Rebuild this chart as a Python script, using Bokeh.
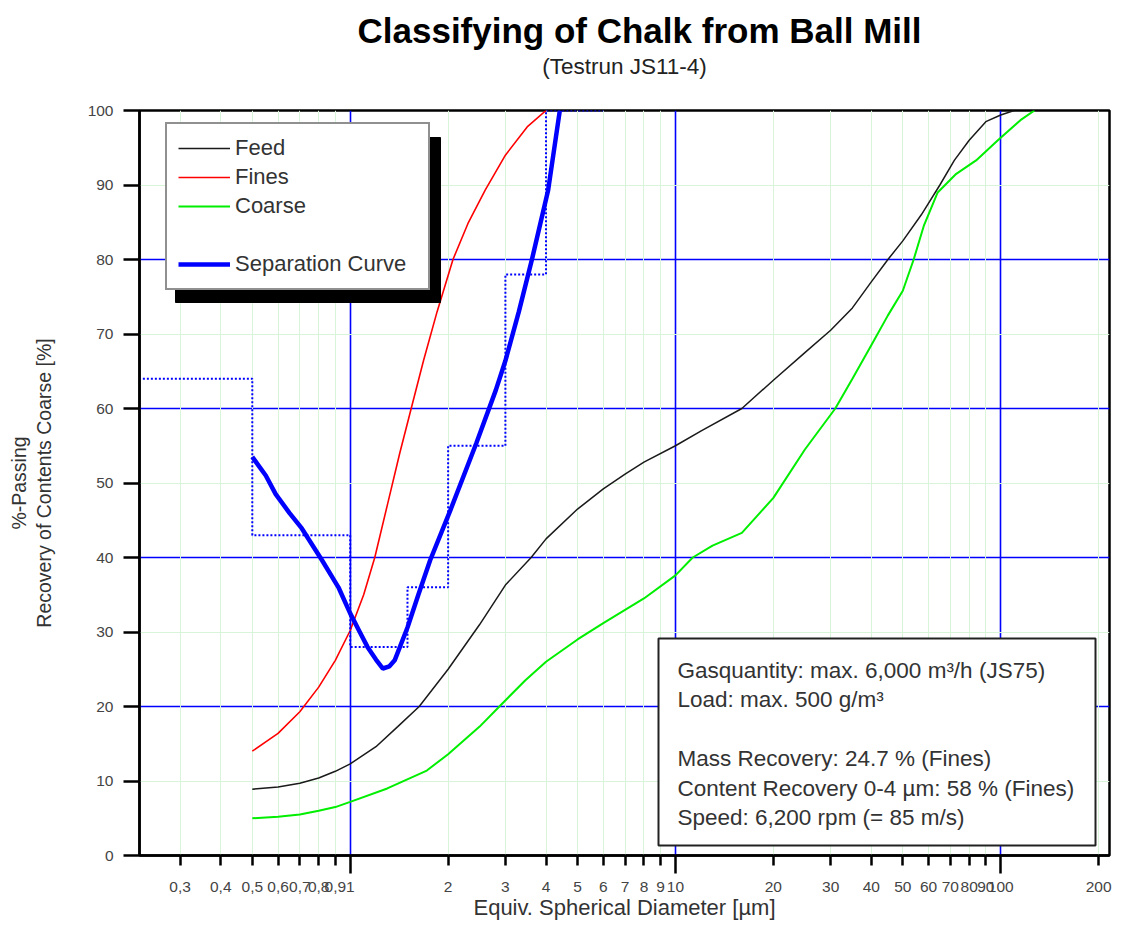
from bokeh.plotting import figure
from bokeh.models import (FixedTicker, LogAxis, Grid, Legend, LegendItem,
                          BoxAnnotation, Label, Title, Range1d)
from bokeh.embed import file_html
from bokeh.resources import INLINE

# ---------------- data ----------------
feed_x = [0.5, 0.6, 0.7, 0.8, 0.9, 1.0, 1.2, 1.4, 1.63, 2.0, 2.5, 3.0, 3.6, 4.0, 5.0, 6.0, 7.0, 8.0,
          10, 12, 16, 20, 25, 30, 35, 40, 45, 50, 57, 65, 72, 80, 90, 100, 110]
feed_y = [8.9, 9.2, 9.7, 10.4, 11.3, 12.3, 14.6, 17.3, 20.0, 25.0, 31.0, 36.3, 40.0, 42.5, 46.5, 49.2,
          51.2, 52.8, 55.0, 57.0, 60.0, 63.8, 67.5, 70.5, 73.5, 77.0, 80.0, 82.5, 86.0, 90.0, 93.3,
          96.0, 98.5, 99.4, 100.0]

fines_x = [0.5, 0.6, 0.7, 0.8, 0.9, 1.0, 1.1, 1.19, 1.3, 1.42, 1.54, 1.68, 1.85, 2.07, 2.3, 2.6,
           3.0, 3.5, 4.0]
fines_y = [14.0, 16.4, 19.3, 22.6, 26.2, 30.2, 35.0, 40.0, 47.0, 54.0, 60.0, 66.4, 73.0, 80.0,
           84.8, 89.3, 94.0, 97.8, 100.0]

coarse_x = [0.5, 0.6, 0.7, 0.8, 0.9, 1.0, 1.3, 1.72, 2.0, 2.5, 2.86, 3.45, 4.0, 5.0, 6.0, 8.0, 10,
            11.3, 13, 16, 20, 25, 31, 35, 40, 45, 50, 54, 58, 64, 73, 84, 98, 115, 127]
coarse_y = [5.0, 5.2, 5.5, 6.0, 6.5, 7.2, 9.0, 11.4, 13.6, 17.3, 19.9, 23.5, 26.0, 29.0, 31.2, 34.5,
            37.6, 40.0, 41.6, 43.3, 48.0, 54.5, 60.0, 64.0, 68.5, 72.5, 75.8, 80.0, 84.5, 89.0,
            91.5, 93.3, 96.0, 98.7, 100.0]

sep_x = [0.5, 0.55, 0.59, 0.65, 0.71, 0.82, 0.92, 1.0, 1.07, 1.13, 1.2, 1.26, 1.32, 1.37, 1.5,
         1.62, 1.76, 2.03, 2.44, 2.8, 3.0, 3.3, 3.62, 4.06, 4.41]
sep_y = [53.5, 51.0, 48.5, 46.0, 43.9, 39.6, 36.0, 32.5, 30.0, 28.0, 26.3, 25.1, 25.4, 26.2, 30.6,
         35.0, 39.6, 46.3, 55.3, 62.4, 66.4, 73.0, 80.0, 89.3, 100.0]

# dotted step (class recovery), bin edges and values
step_edges = [0.2, 0.5, 1.0, 1.5, 2.0, 3.0, 4.0, 6.0]
step_values = [64, 43, 28, 36, 55, 78, 100, 100]

x_ticks = [0.3, 0.4, 0.5, 0.6, 0.7, 0.8, 0.9, 1, 2, 3, 4, 5, 6, 7, 8, 9, 10,
           20, 30, 40, 50, 60, 70, 80, 90, 100, 200]
x_tick_labels = ["0,3", "0,4", "0,5", "0,6", "0,7", "0,8", "0,9", "1", "2", "3", "4", "5", "6",
                 "7", "8", "9", "10", "20", "30", "40", "50", "60", "70", "80", "90", "100", "200"]
x_major = [1, 10, 100]
y_ticks = [0, 10, 20, 30, 40, 50, 60, 70, 80, 90, 100]
y_major_grid = [20, 40, 60, 80]
y_minor_grid = [10, 30, 50, 70, 90]

title_text = "Classifying of Chalk from Ball Mill"
subtitle_text = "(Testrun JS11-4)"
x_label = "Equiv. Spherical Diameter [µm]"
y_label = "%-Passing\nRecovery of Contents Coarse [%]"
legend_labels = ["Feed", "Fines", "Coarse", " ", "Separation Curve"]
info_lines = ["Gasquantity: max. 6,000 m³/h (JS75)",
              "Load: max. 500 g/m³",
              "",
              "Mass Recovery: 24.7 % (Fines)",
              "Content Recovery 0-4 µm: 58 % (Fines)",
              "Speed: 6,200 rpm (= 85 m/s)"]

FONT = "Liberation Sans"
BLUE = "#0000ff"

# ---------------- figure ----------------
p = figure(width=1112, height=922, x_axis_type="log",
           x_range=Range1d(0.225, 216), y_range=Range1d(0, 100),
           output_backend="svg", toolbar_location=None, title=None,
           min_border_left=139, min_border_right=3, min_border_top=110, min_border_bottom=67,
           background_fill_color="white", border_fill_color="white",
           outline_line_color="black", outline_line_width=2.5)

# x axis 1 (the figure's own bottom axis): tick marks only
xa = p.below[0]
xa.ticker = FixedTicker(ticks=x_major, minor_ticks=[t for t in x_ticks if t not in x_major])
xa.major_label_text_font_size = "1px"
xa.major_label_text_alpha = 0
xa.major_label_standoff = 0
xa.major_tick_out = 18
xa.major_tick_in = 0
xa.minor_tick_out = 10
xa.minor_tick_in = 0
xa.axis_line_width = 2.5
xa.major_tick_line_width = 2.5
xa.minor_tick_line_width = 2.5
xa.axis_line_color = "black"
xa.major_tick_line_color = "black"
xa.minor_tick_line_color = "black"

# y axis
ya = p.left[0]
ya.ticker = FixedTicker(ticks=y_ticks)
ya.major_tick_out = 16
ya.major_tick_in = 0
ya.minor_tick_out = 0
ya.minor_tick_in = 0
ya.axis_line_width = 2.5
ya.major_tick_line_width = 2.5
ya.axis_line_color = "black"
ya.major_tick_line_color = "black"
ya.major_label_standoff = 10
ya.major_label_text_font = FONT
ya.major_label_text_font_size = "15.5px"
ya.major_label_text_color = "#444444"
ya.axis_label = y_label
ya.axis_label_text_font = FONT
ya.axis_label_text_font_size = "19.5px"
ya.axis_label_text_font_style = "normal"
ya.axis_label_text_color = "#333333"
ya.axis_label_text_line_height = 1.1
ya.axis_label_standoff = 30

# x axis 2: labels
xb = LogAxis(ticker=FixedTicker(ticks=x_ticks),
             major_label_overrides=dict(zip(x_ticks, x_tick_labels)),
             axis_line_color=None, major_tick_line_color=None, minor_tick_line_color=None,
             major_tick_out=0, major_tick_in=0, minor_tick_out=0, minor_tick_in=0,
             major_label_standoff=8, major_label_text_font=FONT,
             major_label_text_font_size="15.5px", major_label_text_color="#444444",
             axis_label=x_label, axis_label_text_font=FONT, axis_label_text_font_size="22px",
             axis_label_text_font_style="normal", axis_label_text_color="#333333",
             axis_label_standoff=0)
p.add_layout(xb, "below")

# subtitle: carried by an invisible top axis (closest to the frame)
sub_axis = LogAxis(ticker=FixedTicker(ticks=[]), axis_line_color=None,
                   major_tick_line_color=None, minor_tick_line_color=None,
                   major_tick_out=0, major_tick_in=0, minor_tick_out=0, minor_tick_in=0,
                   major_label_standoff=0, major_label_text_font_size="1px",
                   major_label_text_alpha=0,
                   axis_label=subtitle_text, axis_label_text_font=FONT,
                   axis_label_text_font_size="22.5px", axis_label_text_font_style="normal",
                   axis_label_text_color="#222222", axis_label_standoff=32)
p.add_layout(sub_axis, "above")

# main title above it
main = Title(text=title_text, align="left", offset=218, text_font=FONT,
             text_font_size="35px", text_font_style="bold", text_color="black",
             vertical_align="middle", standoff=0)
p.add_layout(main, "above")

# grids
p.xgrid.ticker = FixedTicker(ticks=x_major)
p.ygrid.ticker = FixedTicker(ticks=y_major_grid)
for g in (p.xgrid[0], p.ygrid[0]):
    g.grid_line_color = BLUE
    g.grid_line_width = 1.6
    g.grid_line_alpha = 1.0
p.add_layout(Grid(dimension=0, ticker=FixedTicker(ticks=[t for t in x_ticks if t not in x_major]),
                  grid_line_color="#d9f5d9", grid_line_width=1))
p.add_layout(Grid(dimension=1, ticker=FixedTicker(ticks=y_minor_grid),
                  grid_line_color="#d9f5d9", grid_line_width=1))

# curves
r_feed = p.line(feed_x, feed_y, line_color="#1a1a1a", line_width=1.5)
r_fines = p.line(fines_x, fines_y, line_color="#ff0000", line_width=1.6)
r_coarse = p.line(coarse_x, coarse_y, line_color="#00ee00", line_width=2)
r_step = p.step(step_edges, step_values, mode="after", line_color=BLUE, line_width=2,
                line_dash="2 2")
r_sep = p.line(sep_x, sep_y, line_color=BLUE, line_width=4.5)
r_blank = p.line(x=[1.0], y=[50.0], line_alpha=0)

# legend shadow + legend
shadow = BoxAnnotation(left=36, right=301, top=718, bottom=553,
                       left_units="screen", right_units="screen",
                       top_units="screen", bottom_units="screen",
                       fill_color="black", fill_alpha=1, line_color="black", line_alpha=1)
p.add_layout(shadow)

renderers = [r_feed, r_fines, r_coarse, r_blank, r_sep]
legend = Legend(items=[LegendItem(label=l, renderers=[r]) for l, r in zip(legend_labels, renderers)],
                location=(26, 565), padding=11, spacing=3, glyph_height=26, glyph_width=52,
                label_height=26, label_width=182, label_standoff=5, margin=0,
                label_text_font=FONT, label_text_font_size="22px", label_text_color="#333333",
                border_line_color="#222222", border_line_width=2,
                background_fill_color="white", background_fill_alpha=1)
p.add_layout(legend)

# info box
box = BoxAnnotation(left=519, right=956, top=217, bottom=10,
                    left_units="screen", right_units="screen",
                    top_units="screen", bottom_units="screen",
                    fill_color="white", fill_alpha=1, line_color="#222222", line_alpha=1,
                    line_width=2)
p.add_layout(box)
for i, line in enumerate(info_lines):
    if not line:
        continue
    p.add_layout(Label(x=538, y=185 - i * 29.4, x_units="screen", y_units="screen",
                       text=line, text_font=FONT, text_font_size="22.5px",
                       text_color="#333333", text_align="left", text_baseline="alphabetic"))

open("out.html", "w").write(file_html(p, INLINE))
